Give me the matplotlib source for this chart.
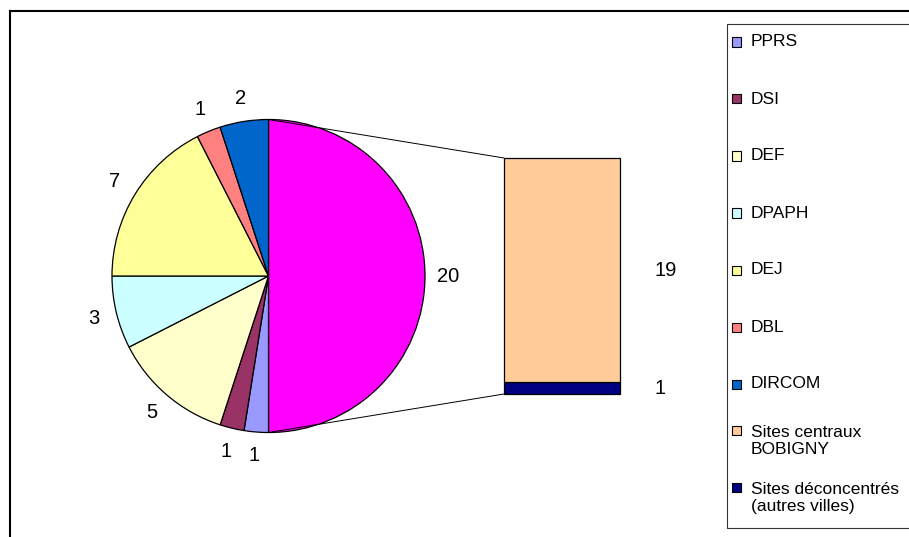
import numpy as np
import matplotlib
matplotlib.use("Agg")
import matplotlib.pyplot as plt
from matplotlib.patches import Rectangle, ConnectionPatch
from matplotlib.lines import Line2D

plt.rcParams["font.family"] = ["Liberation Sans", "DejaVu Sans"]

W, H = 909, 537

# pie slices, clockwise after the big "other" slice
pie_labels = ["PPRS", "DSI", "DEF", "DPAPH", "DEJ", "DBL", "DIRCOM"]
pie_values = [1, 1, 5, 3, 7, 1, 2]
pie_colors = ["#9999FF", "#993366", "#FFFFCC", "#CCFFFF", "#FFFF99", "#FF8080", "#0066CC"]
other_color = "#FF00FF"

# breakdown of the "other" slice (top of bar first)
bar_labels = ["Sites centraux\nBOBIGNY", "Sites déconcentrés\n(autres villes)"]
bar_values = [19, 1]
bar_colors = ["#FFCC99", "#000080"]

LABEL_SIZE = 14.5
LEGEND_SIZE = 12.5


def px_axes(fig, left, top, right, bottom):
    # axes placed with pixel edges (y measured from the top)
    return fig.add_axes([left / W, 1 - bottom / H, (right - left) / W, (bottom - top) / H])


def main():
    fig = plt.figure(figsize=(W / 100, H / 100), dpi=100)

    # pie
    cx, cy, r = 268.5, 276, 156.5
    ax_pie = px_axes(fig, cx - r, cy - r, cx + r, cy + r)
    values = [sum(bar_values)] + pie_values
    colors = [other_color] + pie_colors
    ax_pie.pie(values, colors=colors, labels=[str(v) for v in values],
               startangle=90, counterclock=False, labeldistance=1.15,
               wedgeprops=dict(edgecolor="black", linewidth=0.9, clip_on=False),
               textprops=dict(fontsize=LABEL_SIZE, ha="center", va="center"))
    ax_pie.set_xlim(-1, 1)
    ax_pie.set_ylim(-1, 1)
    ax_pie.set_aspect("auto")
    ax_pie.axis("off")

    # stacked bar for the breakdown
    ax_bar = px_axes(fig, 504, 158, 620, 394)
    bottom = 0
    for v, c in zip(bar_values[::-1], bar_colors[::-1]):
        ax_bar.bar(0, v, bottom=bottom, width=1, color=c, edgecolor="black",
                   linewidth=0.9, clip_on=False)
        ax_bar.annotate(str(v), xy=(0.5, bottom + v / 2), xytext=(25, 0),
                        textcoords="offset points", ha="left", va="center",
                        fontsize=LABEL_SIZE)
        bottom += v
    ax_bar.set_xlim(-0.5, 0.5)
    ax_bar.set_ylim(0, sum(bar_values))
    ax_bar.axis("off")

    # connector lines
    for ya, yb in [(1, sum(bar_values)), (-1, 0)]:
        con = ConnectionPatch(xyA=(0, ya), coordsA=ax_pie.transData,
                              xyB=(-0.5, yb), coordsB=ax_bar.transData,
                              color="black", linewidth=0.7)
        fig.add_artist(con)

    # legend, entries spread evenly down the box like Excel does
    fig.add_artist(Rectangle((727 / W, 1 - 528 / H), 0.3, (528 - 24) / H,
                             transform=fig.transFigure, fill=False,
                             edgecolor="#333333", linewidth=0.8))
    line_h = 21
    for lab, c, yc in zip(pie_labels + bar_labels, pie_colors + bar_colors,
                          np.linspace(42, 498, len(pie_labels) + len(bar_labels))):
        n = lab.count("\n") + 1
        ysq = yc - (n - 1) * line_h / 2
        fig.add_artist(Rectangle((732 / W, 1 - (ysq + 4.5) / H), 9 / W, 9 / H,
                                 transform=fig.transFigure, facecolor=c,
                                 edgecolor="black", linewidth=0.8))
        fig.text(751 / W, 1 - yc / H, lab, ha="left", va="center",
                 fontsize=LEGEND_SIZE, linespacing=1.2)

    # chart area border (left and top visible)
    fig.add_artist(Line2D([10 / W, 10 / W], [0, 1 - 11 / H], transform=fig.transFigure,
                          color="black", linewidth=1.5))
    fig.add_artist(Line2D([10 / W, 1], [1 - 11 / H, 1 - 11 / H], transform=fig.transFigure,
                          color="black", linewidth=1.5))

    fig.savefig("out.png", dpi=100)


if __name__ == "__main__":
    main()
